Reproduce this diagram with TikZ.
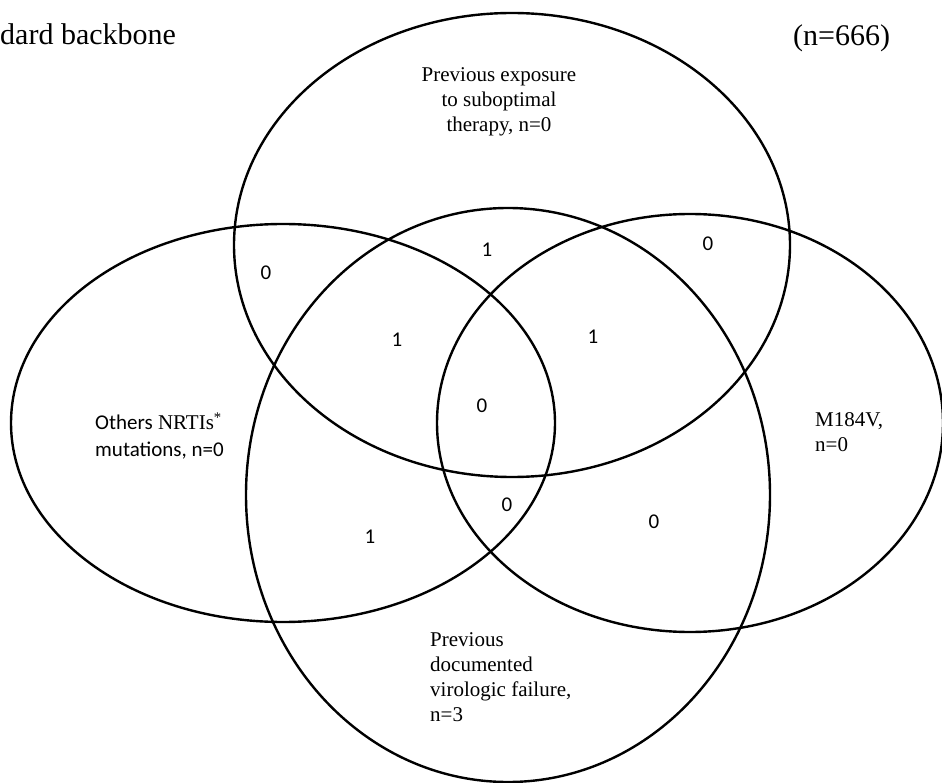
\documentclass[tikz,border=0pt]{standalone}
\usepackage{fontspec}
\setmainfont{Liberation Serif}
\newfontfamily\calibrifont{Carlito}
\usetikzlibrary{shapes.geometric}
\begin{document}
\begin{tikzpicture}[x=1pt,y=-1pt,
  venn/.style={draw, ellipse, line width=2.4pt, inner sep=0pt, outer sep=0pt},
  count/.style={font=\calibrifont\fontsize{21}{25}\selectfont, inner sep=0pt},
  setlabel/.style={font=\fontsize{21}{25}\selectfont, inner sep=0pt},
  heading/.style={font=\fontsize{30}{36}\selectfont, inner sep=0pt}]
\useasboundingbox (0,0) rectangle (942,783);

% the four sets
\node[venn, minimum width=556pt, minimum height=464pt] (exposure) at (512,245) {};
\node[venn, minimum width=544pt, minimum height=398pt] (others)   at (283,423) {};
\node[venn, minimum width=506pt, minimum height=418pt] (mutation) at (690,423) {};
\node[venn, minimum width=524pt, minimum height=574pt] (failure)  at (508,495) {};

% headings
\node[heading, anchor=base west] (title) at (0,45) {dard backbone};
\node[heading, anchor=base west] (total) at (793,46) {(n=666)};

% set labels
\node[setlabel, align=center] (exposurelabel) at (499,102)
  {Previous exposure\\to suboptimal\\therapy, n=0};
\node[setlabel, font=\fontsize{21}{27}\selectfont, align=left, anchor=west] (otherslabel) at (95,436)
  {{\calibrifont Others} NRTIs\textsuperscript{*}\\{\calibrifont mutations, n=0}};
\node[setlabel, align=left, anchor=west] (mutationlabel) at (815,432) {M184V,\\n=0};
\node[setlabel, align=left, anchor=west] (failurelabel) at (430,677)
  {Previous\\documented\\virologic failure,\\n=3};

% region counts
\node[count] (c1) at (266,273) {0};
\node[count] (c2) at (487,250) {1};
\node[count] (c3) at (708,244) {0};
\node[count] (c4) at (397,340) {1};
\node[count] (c5) at (593,337) {1};
\node[count] (c6) at (482,406) {0};
\node[count] (c7) at (507,505) {0};
\node[count] (c8) at (370,537) {1};
\node[count] (c9) at (654,522) {0};
\end{tikzpicture}
\end{document}
